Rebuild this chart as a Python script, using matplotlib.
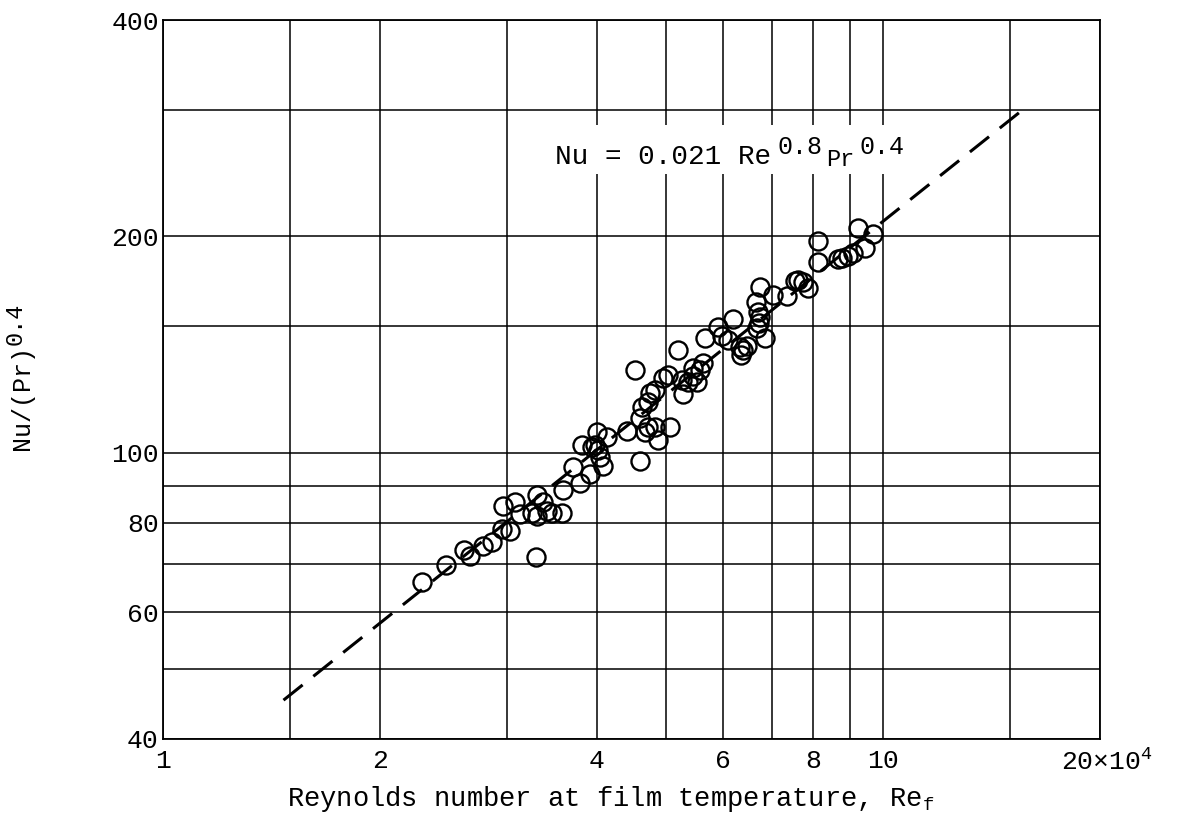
import numpy as np
import matplotlib
matplotlib.use("Agg")
import matplotlib.pyplot as plt
from matplotlib.patches import Rectangle

plt.rcParams['font.family'] = ['Liberation Mono', 'DejaVu Sans']
plt.rcParams['mathtext.fontset'] = 'custom'
plt.rcParams['mathtext.rm'] = 'Liberation Mono'
plt.rcParams['mathtext.it'] = 'Liberation Mono'

# Reynolds number (x 10^4) and Nu/(Pr)^0.4
re_f = [2.287, 2.472, 2.619, 2.670, 2.786, 2.861, 2.953, 3.033, 2.966, 3.083,
        3.132, 3.252, 3.304, 3.375, 3.304, 3.411, 3.470, 3.579, 3.297, 3.590,
        3.710, 3.815, 3.795, 3.918, 4.003, 3.981, 4.023, 4.045, 4.088, 4.133,
        3.939, 4.410, 4.598, 4.598, 4.672, 4.721, 4.824, 4.875, 5.061, 4.623,
        4.721, 4.747, 4.524, 4.941, 5.033, 4.824, 5.196, 5.266, 5.365, 5.437,
        5.511, 5.569, 5.253, 5.659, 5.628, 5.451, 5.905, 5.970, 6.180, 6.092,
        6.330, 6.391, 6.350, 6.467, 6.748, 6.662, 6.694, 6.748, 6.726, 6.677,
        6.857, 7.041, 7.350, 7.547, 7.627, 7.750, 7.854, 8.130, 8.130, 8.647,
        8.761, 8.949, 9.094, 9.441, 9.218, 9.694]
nu_pr = [66.2, 69.8, 73.3, 71.9, 74.1, 75.2, 78.4, 77.9, 84.4, 85.4,
         82.2, 82.5, 87.4, 85.5, 81.7, 83.0, 82.5, 82.5, 71.6, 88.8,
         95.6, 102.4, 90.8, 93.4, 106.9, 102.5, 100.9, 98.7, 95.9, 105.2,
         101.9, 107.3, 97.4, 111.8, 107.0, 108.8, 108.8, 104.2, 108.8, 116.0,
         117.8, 121.0, 130.4, 127.1, 128.4, 122.3, 139.0, 120.8, 125.6, 127.9,
         125.6, 130.4, 126.3, 144.5, 133.2, 131.2, 149.8, 145.2, 153.5, 143.5,
         140.4, 139.0, 136.8, 140.8, 170.3, 161.9, 157.2, 154.3, 151.4, 149.0,
         144.3, 165.8, 165.5, 173.4, 174.0, 173.0, 169.8, 197.0, 184.0, 186.0,
         186.4, 187.8, 189.4, 193.0, 205.4, 201.6]

# grid lines and tick labels
x_grid = [1, 1.5, 2, 3, 4, 5, 6, 7, 8, 9, 10, 15, 20]
x_labels = ['1', '', '2', '', '4', '', '6', '', '8', '', '10', '', '']
y_grid = [40, 50, 60, 70, 80, 90, 100, 150, 200, 300, 400]
y_labels = ['40', '', '60', '', '80', '', '100', '', '200', '', '400']

# correlation line Nu = 0.021 Re^0.8 Pr^0.4
re_line = np.linspace(1.47, 15.5, 200)
nu_line = 0.021 * (re_line * 1e4) ** 0.8

fs = 19

fig = plt.figure(figsize=(11.8, 8.23), dpi=100)
ax = fig.add_axes([163 / 1180, 84 / 823, 937 / 1180, 719 / 823])
ax.set_xscale('log')
ax.set_yscale('log')
ax.set_xlim(1, 20)
ax.set_ylim(40, 400)

ax.set_xticks(x_grid)
ax.set_xticklabels(x_labels)
ax.set_yticks(y_grid)
ax.set_yticklabels(y_labels)
ax.minorticks_off()
ax.tick_params(axis='both', length=0, labelsize=fs)
ax.tick_params(axis='x', pad=7)
ax.tick_params(axis='y', pad=3)
ax.grid(True, color='black', lw=1.1)
for s in ax.spines.values():
    s.set_linewidth(1.3)

ax.plot(re_line, nu_line, color='black', lw=2.2, ls=(0, (8, 4.5)), zorder=3)
ax.plot(re_f, nu_pr, 'o', ms=13, mfc='none', mec='black', mew=1.7, zorder=4)

# equation label on a white patch that cuts the grid lines
ax.add_patch(Rectangle((0.411, 0.786), 0.388, 0.068, transform=ax.transAxes,
                       facecolor='white', edgecolor='none', zorder=2.5))
anchor = dict(xy=(0.418, 0.7997), xycoords='axes fraction',
              textcoords='offset points', ha='left', va='baseline', zorder=5)
ax.annotate('Nu = 0.021 Re', xytext=(0, 0), fontsize=20, **anchor)
ax.annotate('0.8', xytext=(160.5, 7.2), fontsize=18, **anchor)
ax.annotate('Pr', xytext=(195.8, -1.2), fontsize=17, **anchor)
ax.annotate('0.4', xytext=(219.6, 7.2), fontsize=18, **anchor)

ax.annotate(r'20×10$^{4}$', xy=(20, 0), xycoords=('data', 'axes fraction'),
            xytext=(-28, -7), textcoords='offset points',
            ha='left', va='top', fontsize=fs)

ax.set_xlabel(r'Reynolds number at film temperature, Re$_{\mathrm{f}}$',
              fontsize=19.5)
ax.xaxis.set_label_coords(0.478, -0.062)

# y label written in two rotated pieces so the exponent stays large
fig.text(29 / 1180, 373 / 823, 'Nu/(Pr)', rotation=90, rotation_mode='anchor',
         ha='left', va='baseline', fontsize=18)
fig.text(22 / 1180, 478 / 823, '0.4', rotation=90, rotation_mode='anchor',
         ha='left', va='baseline', fontsize=17)

fig.savefig('out.png', dpi=100)
